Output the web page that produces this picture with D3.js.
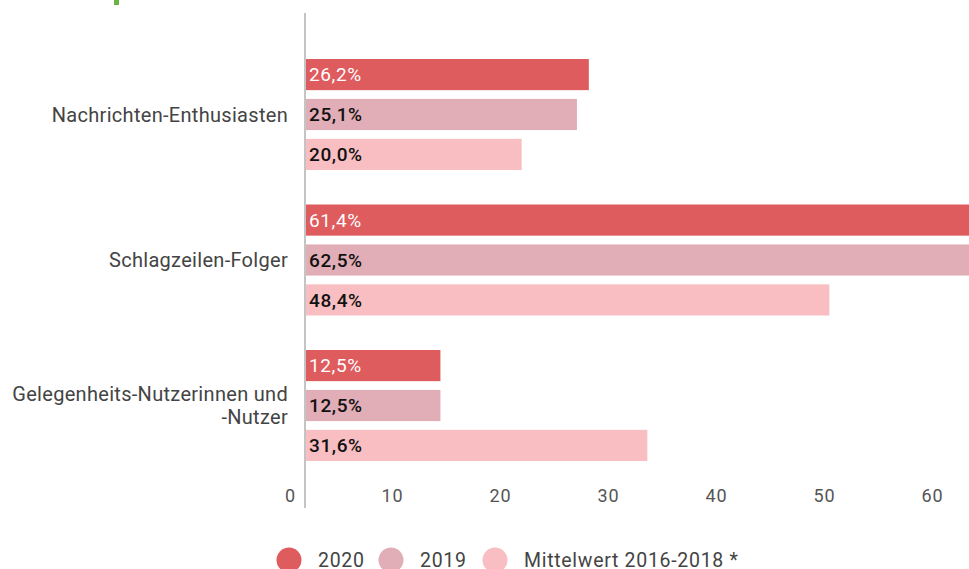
<!DOCTYPE html>
<html>
<head>
<meta charset="utf-8">
<script src="https://cdn.jsdelivr.net/npm/d3@7"></script>
<style>
    body { margin: 0; background: #fff; }
    svg { display: block; font-family: Roboto, "Noto Sans", sans-serif; }
</style>
</head>
<body>
<svg id="vis-svg"></svg>
<script>
// data
const categories = ["Nachrichten-Enthusiasten", "Schlagzeilen-Folger", "Gelegenheits-Nutzerinnen und\n-Nutzer"];
const seriesNames = ["2020", "2019", "Mittelwert 2016-2018 *"];
const values2020 = [26.2, 61.4, 12.5];
const values2019 = [25.1, 62.5, 12.5];
const valuesMittel = [20.0, 48.4, 31.6];
const tickValues = [0, 10, 20, 30, 40, 50, 60];

const colors = ["#de5b5e", "#e1adb6", "#f8bec1"];
const labelColors = ["#ffffff", "#111111", "#111111"];
const fmt = v => v.toFixed(1).replace(".", ",") + "%";

const allSeries = [values2020, values2019, valuesMittel];
const rows = categories.map((c, i) => ({
    category: c,
    bars: allSeries.map((vals, j) => ({ series: seriesNames[j], value: vals[i], idx: j }))
}));

let svg = d3.select("#vis-svg")
    .attr("width", 969)
    .attr("height", 569);

// small green mark left from cropped header
svg.append("rect")
    .attr("x", 114).attr("y", 0)
    .attr("width", 5).attr("height", 5)
    .attr("fill", "#6ab344");

// bars start at the axis line
let xScale = d3.scaleLinear()
    .domain([0, 60])
    .range([305, 955]);

// tick labels sit a bit left of the bar scale in the original
let tickScale = d3.scaleLinear()
    .domain([0, 60])
    .range([284, 932]);

let yScale = d3.scaleBand()
    .domain(categories)
    .range([42, 478.5]);

let innerScale = d3.scaleBand()
    .domain(d3.range(seriesNames.length))
    .range([17, 128])
    .paddingInner(0.22);

// x tick labels
let xAxis = d3.axisBottom(tickScale)
    .tickValues(tickValues)
    .tickSize(0)
    .tickFormat(d => d);

let gx = svg.append("g")
    .attr("class", "xAxis")
    .attr("transform", "translate(0, 486)")
    .call(xAxis);
gx.select(".domain").remove();
gx.selectAll("text")
    .attr("dy", "0.71em")
    .attr("y", 3)
    .attr("dx", d => d === 0 ? 6 : 0)
    .style("font-size", "18px")
    .style("letter-spacing", "1px")
    .style("fill", "#555")
    .style("font-family", "Roboto, sans-serif");

// groups with bars
let groups = svg.selectAll("g.bars")
    .data(rows)
    .enter()
        .append("g")
        .attr("class", "bars")
        .attr("transform", d => `translate(0, ${yScale(d.category)})`);

groups.selectAll("rect")
    .data(d => d.bars)
    .enter()
        .append("rect")
            .attr("x", xScale(0))
            .attr("y", d => innerScale(d.idx))
            .attr("width", d => xScale(d.value) - xScale(0))
            .attr("height", innerScale.bandwidth())
            .style("fill", d => colors[d.idx]);

groups.selectAll("text.val")
    .data(d => d.bars)
    .enter()
        .append("text")
            .attr("class", "val")
            .attr("x", xScale(0) + 4)
            .attr("y", d => innerScale(d.idx) + innerScale.bandwidth() / 2)
            .attr("dy", "0.36em")
            .style("font-size", "19px")
            .style("letter-spacing", "0.6px")
            .style("font-weight", d => d.idx === 0 ? 400 : 500)
            .style("fill", d => labelColors[d.idx])
            .text(d => fmt(d.value));

// category labels, right aligned
groups.each(function(d) {
    let lines = d.category.split("\n");
    let mid = innerScale(1) + innerScale.bandwidth() / 2;
    let t = d3.select(this).append("text")
        .attr("text-anchor", "end")
        .style("font-size", "20px")
        .style("letter-spacing", "0.3px")
        .style("fill", "#444");
    lines.forEach((ln, i) => {
        t.append("tspan")
            .attr("x", 288)
            .attr("y", mid + (i - (lines.length - 1) / 2) * 23)
            .attr("dy", "0.36em")
            .text(ln);
    });
});

// vertical axis line
svg.append("line")
    .attr("x1", xScale(0)).attr("x2", xScale(0))
    .attr("y1", 13).attr("y2", 508)
    .style("stroke", "#c4c4c4")
    .style("stroke-width", 2);

// legend
let legendX = [289, 391, 495];
let legend = svg.selectAll("g.legend")
    .data(seriesNames)
    .enter()
        .append("g")
        .attr("class", "legend")
        .attr("transform", (d, i) => `translate(${legendX[i]}, 560)`);

legend.append("circle")
    .attr("r", 12.5)
    .style("fill", (d, i) => colors[i]);

legend.append("text")
    .attr("x", 29)
    .attr("dy", "0.36em")
    .style("font-size", "19.5px")
    .style("fill", "#444")
    .style("letter-spacing", "0.7px")
    .text(d => d);
</script>
</body>
</html>
